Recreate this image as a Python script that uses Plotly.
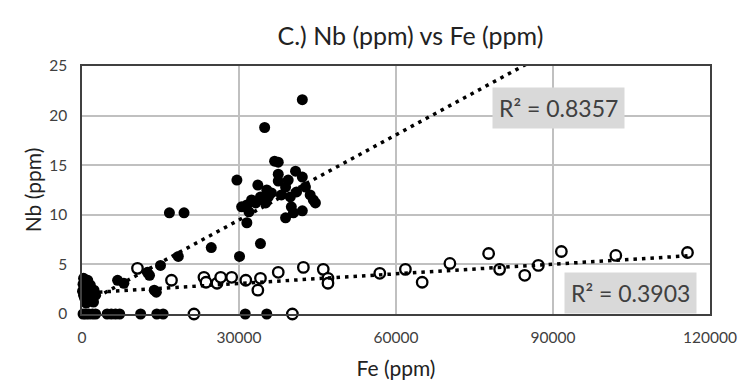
import numpy as np
import plotly.graph_objects as go

# ---- data (Fe ppm, Nb ppm) ----
filled_fe = [300, 600, 200, 900, 400, 1500, 100, 700, 1200, 300, 1800, 500, 1000, 1500, 2200, 800,
             1600, 2300, 1900, 2600, 1100,
             200, 700, 1300, 2000, 2600, 4800, 5600, 6400, 7200, 11200, 14300, 15500, 31200, 35300,
             6800, 8000, 12500, 12900, 15000, 18400, 16700, 19500, 14200, 13800,
             42100, 34900, 36800, 37500, 40800, 37500, 42100, 29600, 33600, 37500, 39400, 35300,
             38900, 42700, 34100, 36200, 41000, 43600, 44200, 44600, 30500, 31500, 33200, 35100,
             31900, 31500, 40000, 40400, 38900, 42100, 24700, 34100, 30100,
             35600, 38100, 32400, 39800]
filled_nb = [3.6, 3.3, 3.0, 2.8, 2.6, 2.5, 2.3, 2.2, 2.0, 1.9, 1.8, 1.6, 1.5, 1.3, 1.2, 1.1,
             2.9, 2.4, 1.5, 1.9, 3.4,
             0, 0, 0, 0, 0, 0, 0, 0, 0, 0, 0, 0, 0, 0,
             3.4, 3.1, 4.2, 3.9, 4.9, 5.8, 10.2, 10.2, 2.2, 2.4,
             21.6, 18.8, 15.4, 15.3, 14.4, 14.1, 13.8, 13.5, 13.0, 13.4, 13.5, 12.5,
             12.8, 12.8, 11.8, 12.2, 12.3, 12.0, 11.5, 11.2, 10.8, 11.0, 11.2, 11.2,
             10.3, 9.2, 10.8, 10.2, 9.7, 10.4, 6.7, 7.1, 5.8,
             11.8, 12.0, 11.5, 11.8]

open_fe = [10600, 17100, 21400, 40200, 23300, 23700, 25800, 26500, 28600, 31300, 34100, 33600,
           37500, 42300, 46100, 47000, 47000, 56900, 61800, 65000, 70300, 77700, 79800, 84600,
           87200, 91600, 102000, 115700]
open_nb = [4.6, 3.4, 0, 0, 3.7, 3.2, 3.1, 3.7, 3.7, 3.4, 3.6, 2.4,
           4.2, 4.7, 4.5, 3.6, 3.1, 4.1, 4.5, 3.2, 5.1, 6.1, 4.5, 3.9,
           4.9, 6.3, 5.9, 6.2]

# trendline coefficients (slope, intercept) and R² labels
filled_trend = (2.86e-4, 0.9)
open_trend = (3.25e-5, 2.1)
filled_r2 = "R² = 0.8357"
open_r2 = "R² = 0.3903"

x_ticks = [0, 30000, 60000, 90000, 120000]
y_ticks = [0, 5, 10, 15, 20, 25]

FONT = "Lato"
TXT = "#404040"

fig = go.Figure()
fig.add_trace(go.Scatter(x=filled_fe, y=filled_nb, mode="markers", cliponaxis=False,
                         marker=dict(size=11, color="black"), showlegend=False))
fig.add_trace(go.Scatter(x=open_fe, y=open_nb, mode="markers", cliponaxis=False,
                         marker=dict(size=10.5, color="white", line=dict(color="black", width=2.3)),
                         showlegend=False))

fx = np.array([0, 120000])
fig.add_trace(go.Scatter(x=fx, y=filled_trend[0] * fx + filled_trend[1], mode="lines",
                         line=dict(color="black", width=3.5, dash="3.5px,5px"), showlegend=False))
ox = np.array([0, max(open_fe)])
fig.add_trace(go.Scatter(x=ox, y=open_trend[0] * ox + open_trend[1], mode="lines",
                         line=dict(color="black", width=3.5, dash="3.5px,5px"), showlegend=False))

fig.add_annotation(x=91000, y=20.8, xref="x", yref="y", text=filled_r2, showarrow=False,
                   bgcolor="#d9d9d9", borderpad=6, font=dict(family=FONT, size=23, color=TXT))
fig.add_annotation(x=104900, y=2.1, xref="x", yref="y", text=open_r2, showarrow=False,
                   bgcolor="#d9d9d9", borderpad=6, font=dict(family=FONT, size=23, color=TXT))

fig.update_layout(
    width=749, height=391,
    margin=dict(l=82, r=34, t=66, b=77),
    paper_bgcolor="white", plot_bgcolor="white",
    font=dict(family=FONT, color=TXT),
    title=dict(text="C.) Nb (ppm) vs Fe (ppm)", x=0.548, xref="container", xanchor="center",
               y=0.908, yref="container", yanchor="middle",
               font=dict(family=FONT, size=25, color="#222222")),
)
fig.update_xaxes(range=[0, 120000], tickvals=x_ticks, ticktext=[str(v) for v in x_ticks],
                 showgrid=True, gridcolor="#c0c0c0", gridwidth=1.5, zeroline=False,
                 showline=True, linecolor="#404040", linewidth=1.5, mirror=True,
                 ticks="", ticklabelstandoff=9, tickfont=dict(size=15.5, color=TXT),
                 title=dict(text="Fe (ppm)", font=dict(size=21, color="#222222"), standoff=16))
fig.update_yaxes(range=[0, 25], tickvals=y_ticks,
                 showgrid=True, gridcolor="#c0c0c0", gridwidth=1.5, zeroline=False,
                 showline=True, linecolor="#404040", linewidth=1.5, mirror=True,
                 ticks="", ticklabelstandoff=10, tickfont=dict(size=15.5, color=TXT),
                 title=dict(text="Nb (ppm)", font=dict(size=21, color="#222222"), standoff=2))

fig.write_html("out.html")
